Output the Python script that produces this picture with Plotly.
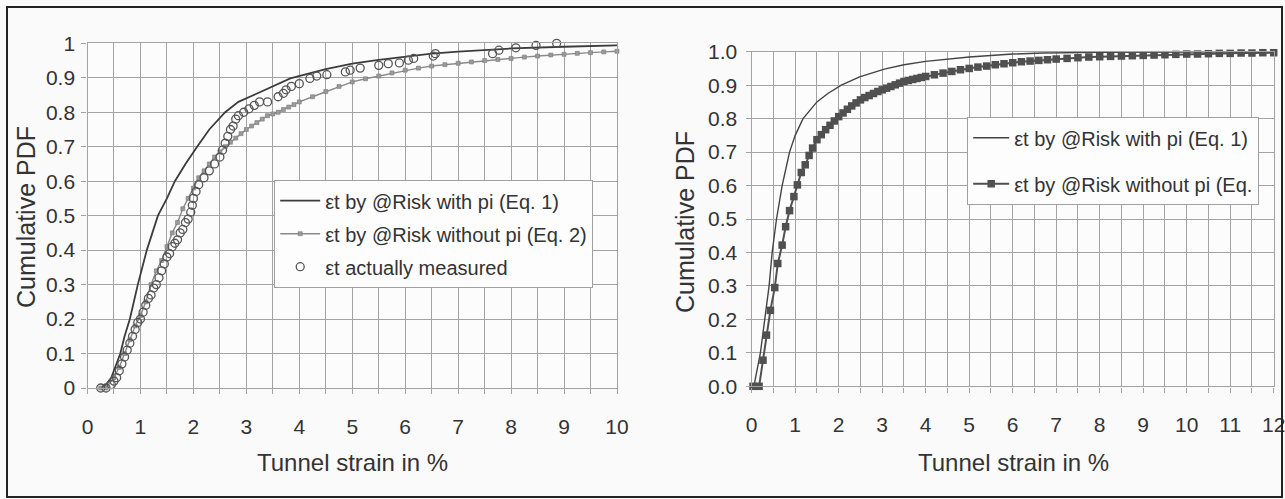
import plotly.graph_objects as go

# ---------------- Left chart data ----------------
left_eq1_x = [0.25, 0.35, 0.45, 0.52, 0.62, 0.7, 0.8, 0.95, 1.12, 1.33, 1.5, 1.65, 1.85, 2.07,
              2.3, 2.6, 2.85, 3.14, 3.5, 3.83, 4.5, 5.0, 5.5, 6.0, 6.5, 7.0, 8.0, 9.0, 10.0]
left_eq1_y = [0.0, 0.01, 0.03, 0.06, 0.1, 0.15, 0.2, 0.3, 0.4, 0.5, 0.55, 0.6, 0.65, 0.7,
              0.75, 0.8, 0.83, 0.85, 0.875, 0.898, 0.925, 0.941, 0.952, 0.962, 0.97, 0.976,
              0.985, 0.99, 0.994]

left_eq2_x = [0.25, 0.35, 0.5, 0.6, 0.7, 0.8, 0.9, 1.0, 1.1, 1.2, 1.3, 1.4, 1.5, 1.6, 1.7,
              1.8, 1.9, 2.0, 2.1, 2.2, 2.3, 2.4, 2.5, 2.6, 2.7, 2.8, 2.9, 3.0, 3.1, 3.2, 3.3,
              3.4, 3.5, 3.6, 3.7, 3.8, 3.9, 4.0, 4.25, 4.5, 4.75, 5.0, 5.25, 5.5, 5.75, 6.0,
              6.25, 6.5, 6.75, 7.0, 7.25, 7.5, 7.75, 8.0, 8.25, 8.5, 8.75, 9.0, 9.25, 9.5,
              9.75, 10.0]
left_eq2_y = [0.0, 0.0, 0.03, 0.06, 0.1, 0.14, 0.18, 0.21, 0.25, 0.3, 0.34, 0.37, 0.41, 0.45,
              0.48, 0.52, 0.55, 0.58, 0.61, 0.63, 0.65, 0.67, 0.685, 0.7, 0.713, 0.725, 0.738,
              0.75, 0.76, 0.77, 0.78, 0.79, 0.795, 0.8, 0.808, 0.815, 0.822, 0.83, 0.845, 0.86,
              0.875, 0.888, 0.897, 0.905, 0.914, 0.922, 0.928, 0.934, 0.938, 0.942, 0.946,
              0.95, 0.953, 0.956, 0.96, 0.963, 0.966, 0.968, 0.971, 0.973, 0.975, 0.977]

measured_x = [0.25, 0.35, 0.45, 0.5, 0.55, 0.6, 0.65, 0.7, 0.75, 0.8, 0.85, 0.9, 0.95, 1.0,
              1.05, 1.1, 1.15, 1.2, 1.25, 1.3, 1.35, 1.4, 1.45, 1.5, 1.55, 1.6, 1.65, 1.7,
              1.75, 1.8, 1.85, 1.9, 1.95, 1.98, 2.0, 2.05, 2.1, 2.2, 2.3, 2.4, 2.5, 2.55, 2.6,
              2.65, 2.7, 2.75, 2.8, 2.85, 2.95, 3.05, 3.15, 3.25, 3.4, 3.6, 3.7, 3.75, 3.85,
              4.0, 4.2, 4.33, 4.52, 4.87, 4.96, 5.15, 5.5, 5.68, 5.89, 6.06, 6.16, 6.53, 6.57,
              7.65, 7.77, 8.09, 8.47, 8.86]
measured_y = [0.0, 0.0, 0.01, 0.02, 0.03, 0.05, 0.07, 0.09, 0.11, 0.13, 0.15, 0.17, 0.19, 0.2,
              0.22, 0.24, 0.26, 0.27, 0.29, 0.3, 0.32, 0.34, 0.36, 0.38, 0.39, 0.41, 0.42, 0.43,
              0.45, 0.46, 0.48, 0.49, 0.51, 0.53, 0.55, 0.57, 0.59, 0.61, 0.63, 0.65, 0.67,
              0.69, 0.71, 0.73, 0.75, 0.76, 0.78, 0.79, 0.8, 0.81, 0.82, 0.83, 0.83, 0.845,
              0.855, 0.865, 0.875, 0.883, 0.898, 0.905, 0.909, 0.917, 0.922, 0.928, 0.936,
              0.941, 0.943, 0.951, 0.956, 0.963, 0.97, 0.97, 0.98, 0.987, 0.994, 1.0]

# ---------------- Right chart data ----------------
right_eq1_x = [0.05, 0.12, 0.2, 0.3, 0.4, 0.47, 0.57, 0.7, 0.87, 1.0, 1.18, 1.5, 1.75, 2.06,
               2.48, 3.05, 3.5, 4.0, 4.5, 5.0, 6.0, 6.7, 8.0, 10.0, 12.0]
right_eq1_y = [0.0, 0.05, 0.1, 0.2, 0.3, 0.4, 0.5, 0.6, 0.7, 0.75, 0.8, 0.85, 0.875, 0.9,
               0.925, 0.948, 0.961, 0.971, 0.978, 0.984, 0.993, 0.996, 0.998, 0.999, 1.0]

right_eq2_x = [0.03, 0.17, 0.26, 0.34, 0.43, 0.53, 0.6, 0.7, 0.78, 0.87, 0.97, 1.05, 1.14,
               1.23, 1.32, 1.4, 1.5, 1.6, 1.7, 1.8, 1.9, 2.0, 2.1, 2.2, 2.3, 2.4, 2.5, 2.6,
               2.7, 2.8, 2.9, 3.0, 3.1, 3.2, 3.3, 3.4, 3.5, 3.6, 3.7, 3.8, 3.9, 4.0, 4.2, 4.4,
               4.6, 4.8, 5.0, 5.2, 5.4, 5.6, 5.8, 6.0, 6.2, 6.4, 6.6, 6.8, 7.0, 7.25, 7.5,
               7.75, 8.0, 8.25, 8.5, 8.75, 9.0, 9.25, 9.5, 9.75, 10.0, 10.25, 10.5, 10.75,
               11.0, 11.25, 11.5, 11.75, 12.0]
right_eq2_y = [0.0, 0.0, 0.078, 0.153, 0.227, 0.295, 0.367, 0.422, 0.477, 0.525, 0.567, 0.602,
               0.639, 0.662, 0.69, 0.712, 0.737, 0.752, 0.767, 0.78, 0.793, 0.806, 0.817, 0.828,
               0.838, 0.847, 0.856, 0.863, 0.869, 0.875, 0.881, 0.886, 0.891, 0.896, 0.901,
               0.906, 0.911, 0.914, 0.917, 0.92, 0.923, 0.926, 0.931, 0.936, 0.941, 0.946,
               0.95, 0.954, 0.957, 0.961, 0.964, 0.967, 0.97, 0.972, 0.974, 0.976, 0.978,
               0.98, 0.982, 0.984, 0.985, 0.986, 0.987, 0.988, 0.989, 0.99, 0.991, 0.992,
               0.993, 0.993, 0.994, 0.995, 0.995, 0.996, 0.996, 0.997, 0.997]

left_names = ["εt by @Risk with pi (Eq. 1)", "εt by @Risk without pi (Eq. 2)", "εt actually measured"]
right_names = ["εt by @Risk with pi (Eq. 1)", "εt by @Risk without pi (Eq."]

y_ticks = [0, 0.1, 0.2, 0.3, 0.4, 0.5, 0.6, 0.7, 0.8, 0.9, 1]
left_y_labels = ["0", "0.1", "0.2", "0.3", "0.4", "0.5", "0.6", "0.7", "0.8", "0.9", "1"]
right_y_labels = ["0.0", "0.1", "0.2", "0.3", "0.4", "0.5", "0.6", "0.7", "0.8", "0.9", "1.0"]

W, H = 1285, 499
FONT = "Liberation Sans, Arial, sans-serif"
TXT = "#333333"
GRID = "#a3a3a3"

fig = go.Figure()

fig.add_trace(go.Scatter(x=left_eq1_x, y=left_eq1_y, mode="lines", name=left_names[0],
                         line=dict(color="#3c3c3c", width=1.8), xaxis="x", yaxis="y",
                         legend="legend", legendgroup="a", cliponaxis=False))
fig.add_trace(go.Scatter(x=left_eq2_x, y=left_eq2_y, mode="lines+markers", name=left_names[1],
                         line=dict(color="#8a8a8a", width=1.4),
                         marker=dict(symbol="square", size=4, color="#9a9a9a",
                                     line=dict(color="#7a7a7a", width=0.6)),
                         xaxis="x", yaxis="y", legend="legend", legendgroup="b", cliponaxis=False))
fig.add_trace(go.Scatter(x=measured_x, y=measured_y, mode="markers", name=left_names[2],
                         marker=dict(symbol="circle-open", size=8, color="#555555",
                                     line=dict(width=1.3)),
                         xaxis="x", yaxis="y", legend="legend", legendgroup="c", cliponaxis=False))

fig.add_trace(go.Scatter(x=right_eq1_x, y=right_eq1_y, mode="lines", name=right_names[0],
                         line=dict(color="#444444", width=1.4), xaxis="x2", yaxis="y2",
                         legend="legend2", legendgroup="d", cliponaxis=False))
fig.add_trace(go.Scatter(x=right_eq2_x, y=right_eq2_y, mode="lines+markers", name=right_names[1],
                         line=dict(color="#505050", width=2),
                         marker=dict(symbol="square", size=7.5, color="#505050"),
                         xaxis="x2", yaxis="y2", legend="legend2", legendgroup="e", cliponaxis=False))

def px_x(p):
    return p / W

def px_y(p):
    return 1 - p / H

common_axis = dict(showgrid=True, gridcolor=GRID, gridwidth=1.4, zeroline=False,
                   showline=True, linecolor=GRID, linewidth=1.4, mirror=True,
                   ticks="outside", ticklen=5, tickcolor=GRID, tickwidth=1.4,
                   tickfont=dict(family=FONT, size=21, color=TXT), automargin=False,
                   ticklabeloverflow="allow")

fig.update_layout(
    width=W, height=H,
    margin=dict(l=0, r=0, t=0, b=0),
    paper_bgcolor="#fafafa",
    plot_bgcolor="#fcfcfc",
    template="none",
    font=dict(family=FONT, color=TXT),
    xaxis=dict(domain=[px_x(87.5), px_x(617)], range=[0, 10], dtick=1, tick0=0,
               minor=dict(dtick=0.5, showgrid=True, gridcolor=GRID, gridwidth=1.4,
                          ticks="outside", ticklen=5, tickcolor=GRID),
               ticklabelstandoff=15, anchor="y", **common_axis),
    yaxis=dict(domain=[px_y(388), px_y(43.3)], range=[0, 1], tickvals=y_ticks,
               ticktext=left_y_labels, ticklabelstandoff=2, anchor="x", **common_axis),
    xaxis2=dict(domain=[px_x(751.7), px_x(1273.7)], range=[0, 12], dtick=1, tick0=0,
                minor=dict(dtick=0.5, showgrid=True, gridcolor=GRID, gridwidth=1.4,
                           ticks="outside", ticklen=5, tickcolor=GRID),
                ticklabelstandoff=14, anchor="y2", **common_axis),
    yaxis2=dict(domain=[px_y(386.3), px_y(51.7)], range=[0, 1], tickvals=y_ticks,
                ticktext=right_y_labels, ticklabelstandoff=4, anchor="x2", **common_axis),
    legend=dict(x=px_x(274), y=px_y(180), xanchor="left", yanchor="top",
                bgcolor="#fdfdfd", bordercolor="#a0a0a0", borderwidth=1.2,
                font=dict(family=FONT, size=20, color=TXT), traceorder="grouped",
                tracegroupgap=4, itemwidth=40),
    legend2=dict(x=px_x(967), y=px_y(117), xanchor="left", yanchor="top",
                 bgcolor="#fdfdfd", bordercolor="#a0a0a0", borderwidth=1.2,
                 font=dict(family=FONT, size=20, color=TXT), traceorder="grouped",
                 tracegroupgap=17, itemwidth=36),
    showlegend=True,
)

fig.add_annotation(text="Cumulative PDF", x=px_x(26), y=px_y(217), xref="paper", yref="paper",
                   textangle=-90, showarrow=False, font=dict(family=FONT, size=25, color=TXT),
                   xanchor="center", yanchor="middle")
fig.add_annotation(text="Tunnel strain in %", x=px_x(352), y=px_y(462), xref="paper", yref="paper",
                   showarrow=False, font=dict(family=FONT, size=24, color=TXT),
                   xanchor="center", yanchor="middle")
fig.add_annotation(text="Cumulative PDF", x=px_x(685), y=px_y(222), xref="paper", yref="paper",
                   textangle=-90, showarrow=False, font=dict(family=FONT, size=25, color=TXT),
                   xanchor="center", yanchor="middle")
fig.add_annotation(text="Tunnel strain in %", x=px_x(1013), y=px_y(462), xref="paper", yref="paper",
                   showarrow=False, font=dict(family=FONT, size=24, color=TXT),
                   xanchor="center", yanchor="middle")

# outer frame
fig.add_shape(type="rect", xref="paper", yref="paper",
              x0=px_x(7), x1=px_x(1282), y0=px_y(497), y1=px_y(7),
              line=dict(color="#222222", width=2), layer="above")

fig.write_html("out.html")
